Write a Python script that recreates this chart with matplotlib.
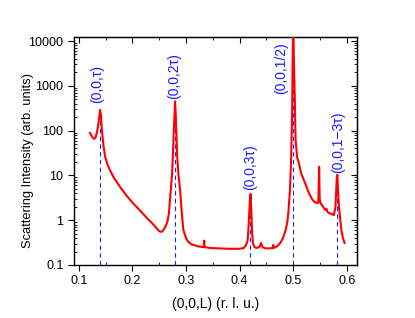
import matplotlib
matplotlib.use('Agg')
import matplotlib.pyplot as plt
from matplotlib.ticker import LogLocator, NullFormatter, MultipleLocator

plt.rcParams['font.family'] = ['Liberation Sans', 'DejaVu Sans']

# scattering scan along (0,0,L)
L = [0.1206, 0.124, 0.128, 0.131, 0.134, 0.137, 0.1395, 0.141, 0.143, 0.146,
     0.149, 0.153, 0.158, 0.165, 0.177, 0.19, 0.201, 0.215, 0.227, 0.24,
     0.248, 0.252, 0.256, 0.261, 0.265, 0.268, 0.270, 0.272, 0.274, 0.276,
     0.277, 0.279, 0.2795, 0.281, 0.2835, 0.286, 0.289, 0.292, 0.295, 0.300,
     0.304, 0.310, 0.323, 0.333, 0.334, 0.3345, 0.345, 0.36, 0.38, 0.40,
     0.408, 0.412, 0.415, 0.417, 0.419, 0.4205, 0.422, 0.4235, 0.425, 0.428,
     0.431, 0.437, 0.440, 0.443, 0.448, 0.455, 0.462, 0.463, 0.4635, 0.470,
     0.476, 0.481, 0.486, 0.489, 0.491, 0.494, 0.496, 0.498, 0.499, 0.5,
     0.5015, 0.503, 0.5045, 0.5075, 0.5106, 0.515, 0.52, 0.525, 0.5295, 0.535,
     0.539, 0.545, 0.547, 0.5485, 0.5495, 0.551, 0.556, 0.5596, 0.562, 0.5645,
     0.570, 0.576, 0.579, 0.5815, 0.5825, 0.584, 0.5855, 0.588, 0.590, 0.593,
     0.596]
intensity = [88, 75, 65, 70, 95, 160, 290, 230, 100, 45,
             26, 18, 13, 9, 5.5, 3.4, 2.4, 1.6, 1.12, 0.78,
             0.6, 0.55, 0.56, 0.7, 0.9, 1.4, 2.8, 5.5, 11, 40,
             89, 300, 450, 200, 26, 10, 4.7, 1.5, 0.6, 0.4,
             0.33, 0.29, 0.26, 0.25, 0.35, 0.25, 0.24, 0.235, 0.23, 0.23,
             0.24, 0.28, 0.35, 0.8, 2.5, 3.85, 1.5, 0.5, 0.3, 0.25,
             0.24, 0.25, 0.31, 0.25, 0.235, 0.235, 0.24, 0.28, 0.24, 0.26,
             0.31, 0.4, 0.6, 0.9, 1.45, 4.7, 19, 200, 3200, 30000,
             3000, 560, 62, 25, 19, 11, 7.9, 5.5, 4, 3,
             2.6, 2.4, 2.5, 15.5, 3, 2.4, 2.0, 1.7, 1.8, 1.5,
             1.4, 1.3, 2, 9, 10.3, 4, 2, 1.0, 0.6, 0.4,
             0.31]

# indexed peaks: position, peak height, label
peak_pos = [0.14, 0.28, 0.42, 0.5, 0.582]
peak_top = [290, 450, 3.85, 30000, 10.3]
peak_labels = ['(0,0,τ)', '(0,0,2τ)', '(0,0,3τ)', '(0,0,1/2)', '(0,0,1−3τ)']
label_x = [0.1337, 0.2785, 0.4200, 0.4783, 0.5845]
label_y = [420, 520, 4.8, 660, 11.5]

fig = plt.figure(figsize=(4.15, 3.18), dpi=100)
ax = fig.add_axes([0.178, 0.1667, 0.682, 0.717])

ax.plot(L, intensity, color='#ff0000', lw=1.5, zorder=3)
for x, top in zip(peak_pos, peak_top):
    ax.vlines(x, 0.1, top, colors='#2020ff', linestyles=(0, (4, 3)), lw=0.8, zorder=2)
for x, y, s in zip(label_x, label_y, peak_labels):
    ax.text(x, y, s, rotation=90, color='#1a1aff', fontsize=10,
            ha='center', va='bottom')

ax.set_yscale('log')
ax.set_xlim(0.0906, 0.619)
ax.set_ylim(0.1, 12300)
ax.xaxis.set_major_locator(MultipleLocator(0.1))
ax.xaxis.set_minor_locator(MultipleLocator(0.05))
ax.yaxis.set_minor_locator(LogLocator(base=10, subs=range(2, 10), numticks=10))
ax.yaxis.set_minor_formatter(NullFormatter())
ax.set_yticks([0.1, 1, 10, 100, 1000, 10000])
ax.set_yticklabels(['0.1', '1', '10', '100', '1000', '10000'])
ax.set_xticks([0.1, 0.2, 0.3, 0.4, 0.5, 0.6])
ax.set_xticklabels(['0.1', '0.2', '0.3', '0.4', '0.5', '0.6'])

ax.tick_params(which='major', direction='out', length=4, width=0.8, labelsize=9)
ax.tick_params(which='minor', direction='in', length=2, width=0.6)

# inward ticks on the top and right frame
top = ax.secondary_xaxis('top')
top.xaxis.set_major_locator(MultipleLocator(0.1))
top.xaxis.set_minor_locator(MultipleLocator(0.05))
top.tick_params(which='major', direction='in', length=4, width=0.8, labeltop=False)
top.tick_params(which='minor', direction='in', length=2, width=0.6)
right = ax.secondary_yaxis('right')
right.set_yticks([0.1, 1, 10, 100, 1000, 10000])
right.yaxis.set_minor_locator(LogLocator(base=10, subs=range(2, 10), numticks=10))
right.yaxis.set_minor_formatter(NullFormatter())
right.tick_params(which='major', direction='in', length=4, width=0.8, labelright=False)
right.tick_params(which='minor', direction='in', length=2, width=0.6)

for sp in ax.spines.values():
    sp.set_linewidth(1.0)

ax.set_xlabel('(0,0,L) (r. l. u.)', fontsize=10, labelpad=7)
fig.text(28 / 415, 1 - 160 / 318, 'Scattering Intensity (arb. units)',
         rotation=90, fontsize=9.3, ha='center', va='center')

fig.savefig('out.png', dpi=100)
